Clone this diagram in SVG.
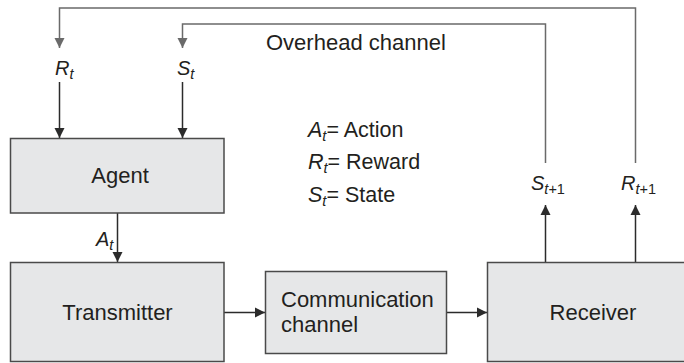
<svg xmlns="http://www.w3.org/2000/svg" width="684" height="363" viewBox="0 0 684 363">
<defs>
<marker id="ad" markerUnits="userSpaceOnUse" markerWidth="10" markerHeight="11" refX="10" refY="5.5" orient="auto" viewBox="0 0 10 11"><path d="M0,0.5 L10,5.5 L0,10.5 z" fill="#2b2b2b"/></marker>
<marker id="ag" markerUnits="userSpaceOnUse" markerWidth="10" markerHeight="11" refX="10" refY="5.5" orient="auto" viewBox="0 0 10 11"><path d="M0,0.5 L10,5.5 L0,10.5 z" fill="#6a6a6a"/></marker>
<style>
.box{fill:#e6e7e8;stroke:#4a4a4a;stroke-width:1.5}
.t{font-family:"Liberation Sans",Arial,sans-serif;font-size:22px;fill:#231f20}
.l{font-family:"Liberation Sans",Arial,sans-serif;font-size:20px;fill:#231f20}
.g{font-family:"Liberation Sans",Arial,sans-serif;font-size:21.5px;fill:#231f20}
.i{font-style:italic}
.s{font-size:14.5px}
.dk{fill:none;stroke:#2b2b2b;stroke-width:1.5}
.gr{fill:none;stroke:#6a6a6a;stroke-width:1.5}
</style>
</defs>
<rect width="684" height="363" fill="#ffffff"/>
<g id="connectors">
<polyline class="gr" points="635.5,163 635.5,8 59.5,8 59.5,48" marker-end="url(#ag)"/>
<polyline class="gr" points="545.5,163 545.5,24 182.5,24 182.5,48" marker-end="url(#ag)"/>
<line class="dk" x1="59.5" y1="82" x2="59.5" y2="138" marker-end="url(#ad)"/>
<line class="dk" x1="182.5" y1="82" x2="182.5" y2="138" marker-end="url(#ad)"/>
<line class="dk" x1="117.5" y1="213" x2="117.5" y2="262" marker-end="url(#ad)"/>
<line class="dk" x1="224" y1="312.5" x2="265" y2="312.5" marker-end="url(#ad)"/>
<line class="dk" x1="447" y1="312.5" x2="487" y2="312.5" marker-end="url(#ad)"/>
<line class="dk" x1="545.5" y1="262" x2="545.5" y2="205" marker-end="url(#ad)"/>
<line class="dk" x1="635.5" y1="262" x2="635.5" y2="205" marker-end="url(#ad)"/>
</g>
<g id="labels">
<text class="l" x="55" y="75"><tspan class="i">R</tspan><tspan class="i s" dy="4">t</tspan></text>
<text class="l" x="177" y="75"><tspan class="i">S</tspan><tspan class="i s" dy="4">t</tspan></text>
<text class="t" x="266" y="50">Overhead channel</text>
<text class="l" x="96" y="246"><tspan class="i">A</tspan><tspan class="i s" dy="4">t</tspan></text>
<text class="l" x="531" y="190"><tspan class="i">S</tspan><tspan class="i s" dy="4">t</tspan><tspan class="s">+1</tspan></text>
<text class="l" x="621" y="190"><tspan class="i">R</tspan><tspan class="i s" dy="4">t</tspan><tspan class="s">+1</tspan></text>
</g>
<g id="legend">
<text class="g" x="308" y="137"><tspan class="i">A</tspan><tspan class="i s" dy="4">t</tspan><tspan dy="-4">= Action</tspan></text>
<text class="g" x="308" y="169"><tspan class="i">R</tspan><tspan class="i s" dy="4">t</tspan><tspan dy="-4">= Reward</tspan></text>
<text class="g" x="308" y="202"><tspan class="i">S</tspan><tspan class="i s" dy="4">t</tspan><tspan dy="-4">= State</tspan></text>
</g>
<g id="agent">
<rect class="box" x="10.5" y="138.5" width="213.5" height="74.5"/>
<text class="t" x="120" y="183" text-anchor="middle">Agent</text>
</g>
<g id="transmitter">
<rect class="box" x="10.5" y="262.5" width="213.5" height="99"/>
<text class="t" x="117.5" y="320" text-anchor="middle">Transmitter</text>
</g>
<g id="channel">
<rect class="box" x="265.5" y="271.5" width="181" height="82"/>
<text class="t" x="281" y="307">Communication</text>
<text class="t" x="281" y="332">channel</text>
</g>
<g id="receiver">
<rect class="box" x="487.5" y="262.5" width="220" height="99"/>
<text class="t" x="593" y="320" text-anchor="middle">Receiver</text>
</g>
</svg>
